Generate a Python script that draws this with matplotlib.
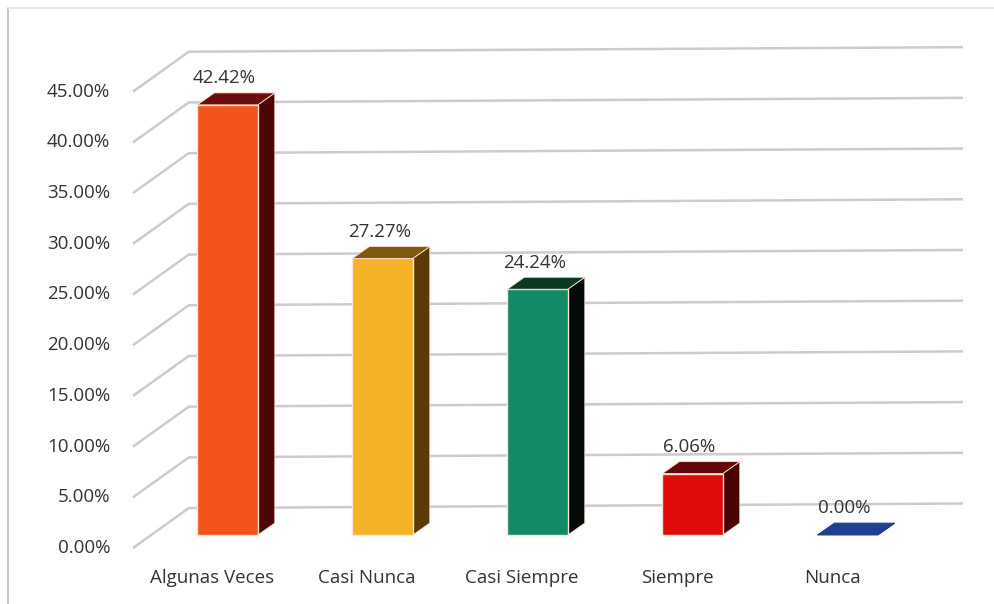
import matplotlib
matplotlib.use('Agg')
from matplotlib import pyplot as plt
from matplotlib.patches import Polygon
from matplotlib.lines import Line2D
import numpy as np


categories = ['Algunas Veces', 'Casi Nunca', 'Casi Siempre', 'Siempre', 'Nunca']
values = [42.42, 27.27, 24.24, 6.06, 0.00]
tick_values = np.arange(0, 50, 5)
tick_labels = [f'{v:.2f}%' for v in tick_values]

front_colors = ['#F2541B', '#F5B128', '#128A68', '#E00B0B', '#1F3F94']
side_colors = ['#4B0606', '#5C3A06', '#050A08', '#4A0404', '#10245C']
top_colors = ['#6E0B0B', '#7D5A0E', '#0B3A22', '#650707', '#1F3F94']

plt.rcParams['font.family'] = ['Open Sans', 'DejaVu Sans']
txt_color = '#333333'
fsize = 13.5

fig = plt.figure(figsize=(9.94, 6.04), dpi=100, facecolor='w')
ax = fig.add_axes([0, 0, 1, 1])
ax.set_xlim(-1.468, 4.945)
ax.set_ylim(-6.8, 52.76)
ax.axis('off')

# fake 3d geometry (in data units)
bar_w = 0.39
dx = 0.11
dy = 1.18
floor_front = -1.28
floor_back = 2.66
wall_x0 = -0.61
wall_x1 = -0.25
wall_x2 = 4.745
tilt = 0.45

# gridlines: floor diagonal + back wall
for v, lab in zip(tick_values, tick_labels):
    ax.plot([wall_x0, wall_x1, wall_x2],
            [v + floor_front, v + floor_back, v + floor_back + tilt],
            color='#CCCCCC', lw=1.8, zorder=1, solid_capstyle='butt')
    ax.text(-0.758, v + floor_front, lab, ha='right', va='center',
            fontsize=fsize, color=txt_color)

x = np.arange(len(values))
edges = ['#FBE3CF' if v > 0 else 'none' for v in values]
ax.bar(x, values, width=bar_w, color=front_colors, edgecolor=edges,
       linewidth=1.0, zorder=4)

for i, v in enumerate(values):
    xl = i - bar_w / 2
    xr = i + bar_w / 2
    side = Polygon([(xr, 0), (xr + dx, dy), (xr + dx, v + dy), (xr, v)],
                   closed=True, facecolor=side_colors[i],
                   edgecolor='#FBE3CF' if v > 0 else side_colors[i],
                   lw=0.6, zorder=3)
    top = Polygon([(xl, v), (xr, v), (xr + dx, v + dy), (xl + dx, v + dy)],
                  closed=True, facecolor=top_colors[i],
                  edgecolor='#FBE3CF' if v > 0 else top_colors[i],
                  lw=0.6, zorder=5)
    ax.add_patch(side)
    ax.add_patch(top)
    ax.text(i - 0.02, v + dy + 1.45, f'{v:.2f}%', ha='center', va='center',
            fontsize=fsize, color=txt_color, zorder=6)
    ax.text(i - 0.1, -4.24, categories[i], ha='center', va='center',
            fontsize=fsize, color=txt_color)

# scanned page border
fig.add_artist(Line2D([8 / 994, 8 / 994], [0, 1 - 8 / 604],
                      transform=fig.transFigure, color='#BEBEBE', lw=1.2))
fig.add_artist(Line2D([8 / 994, 1], [1 - 8 / 604, 1 - 8 / 604],
                      transform=fig.transFigure, color='#E4E4E4', lw=1.2))

fig.savefig('out.png', dpi=100, facecolor='w')
